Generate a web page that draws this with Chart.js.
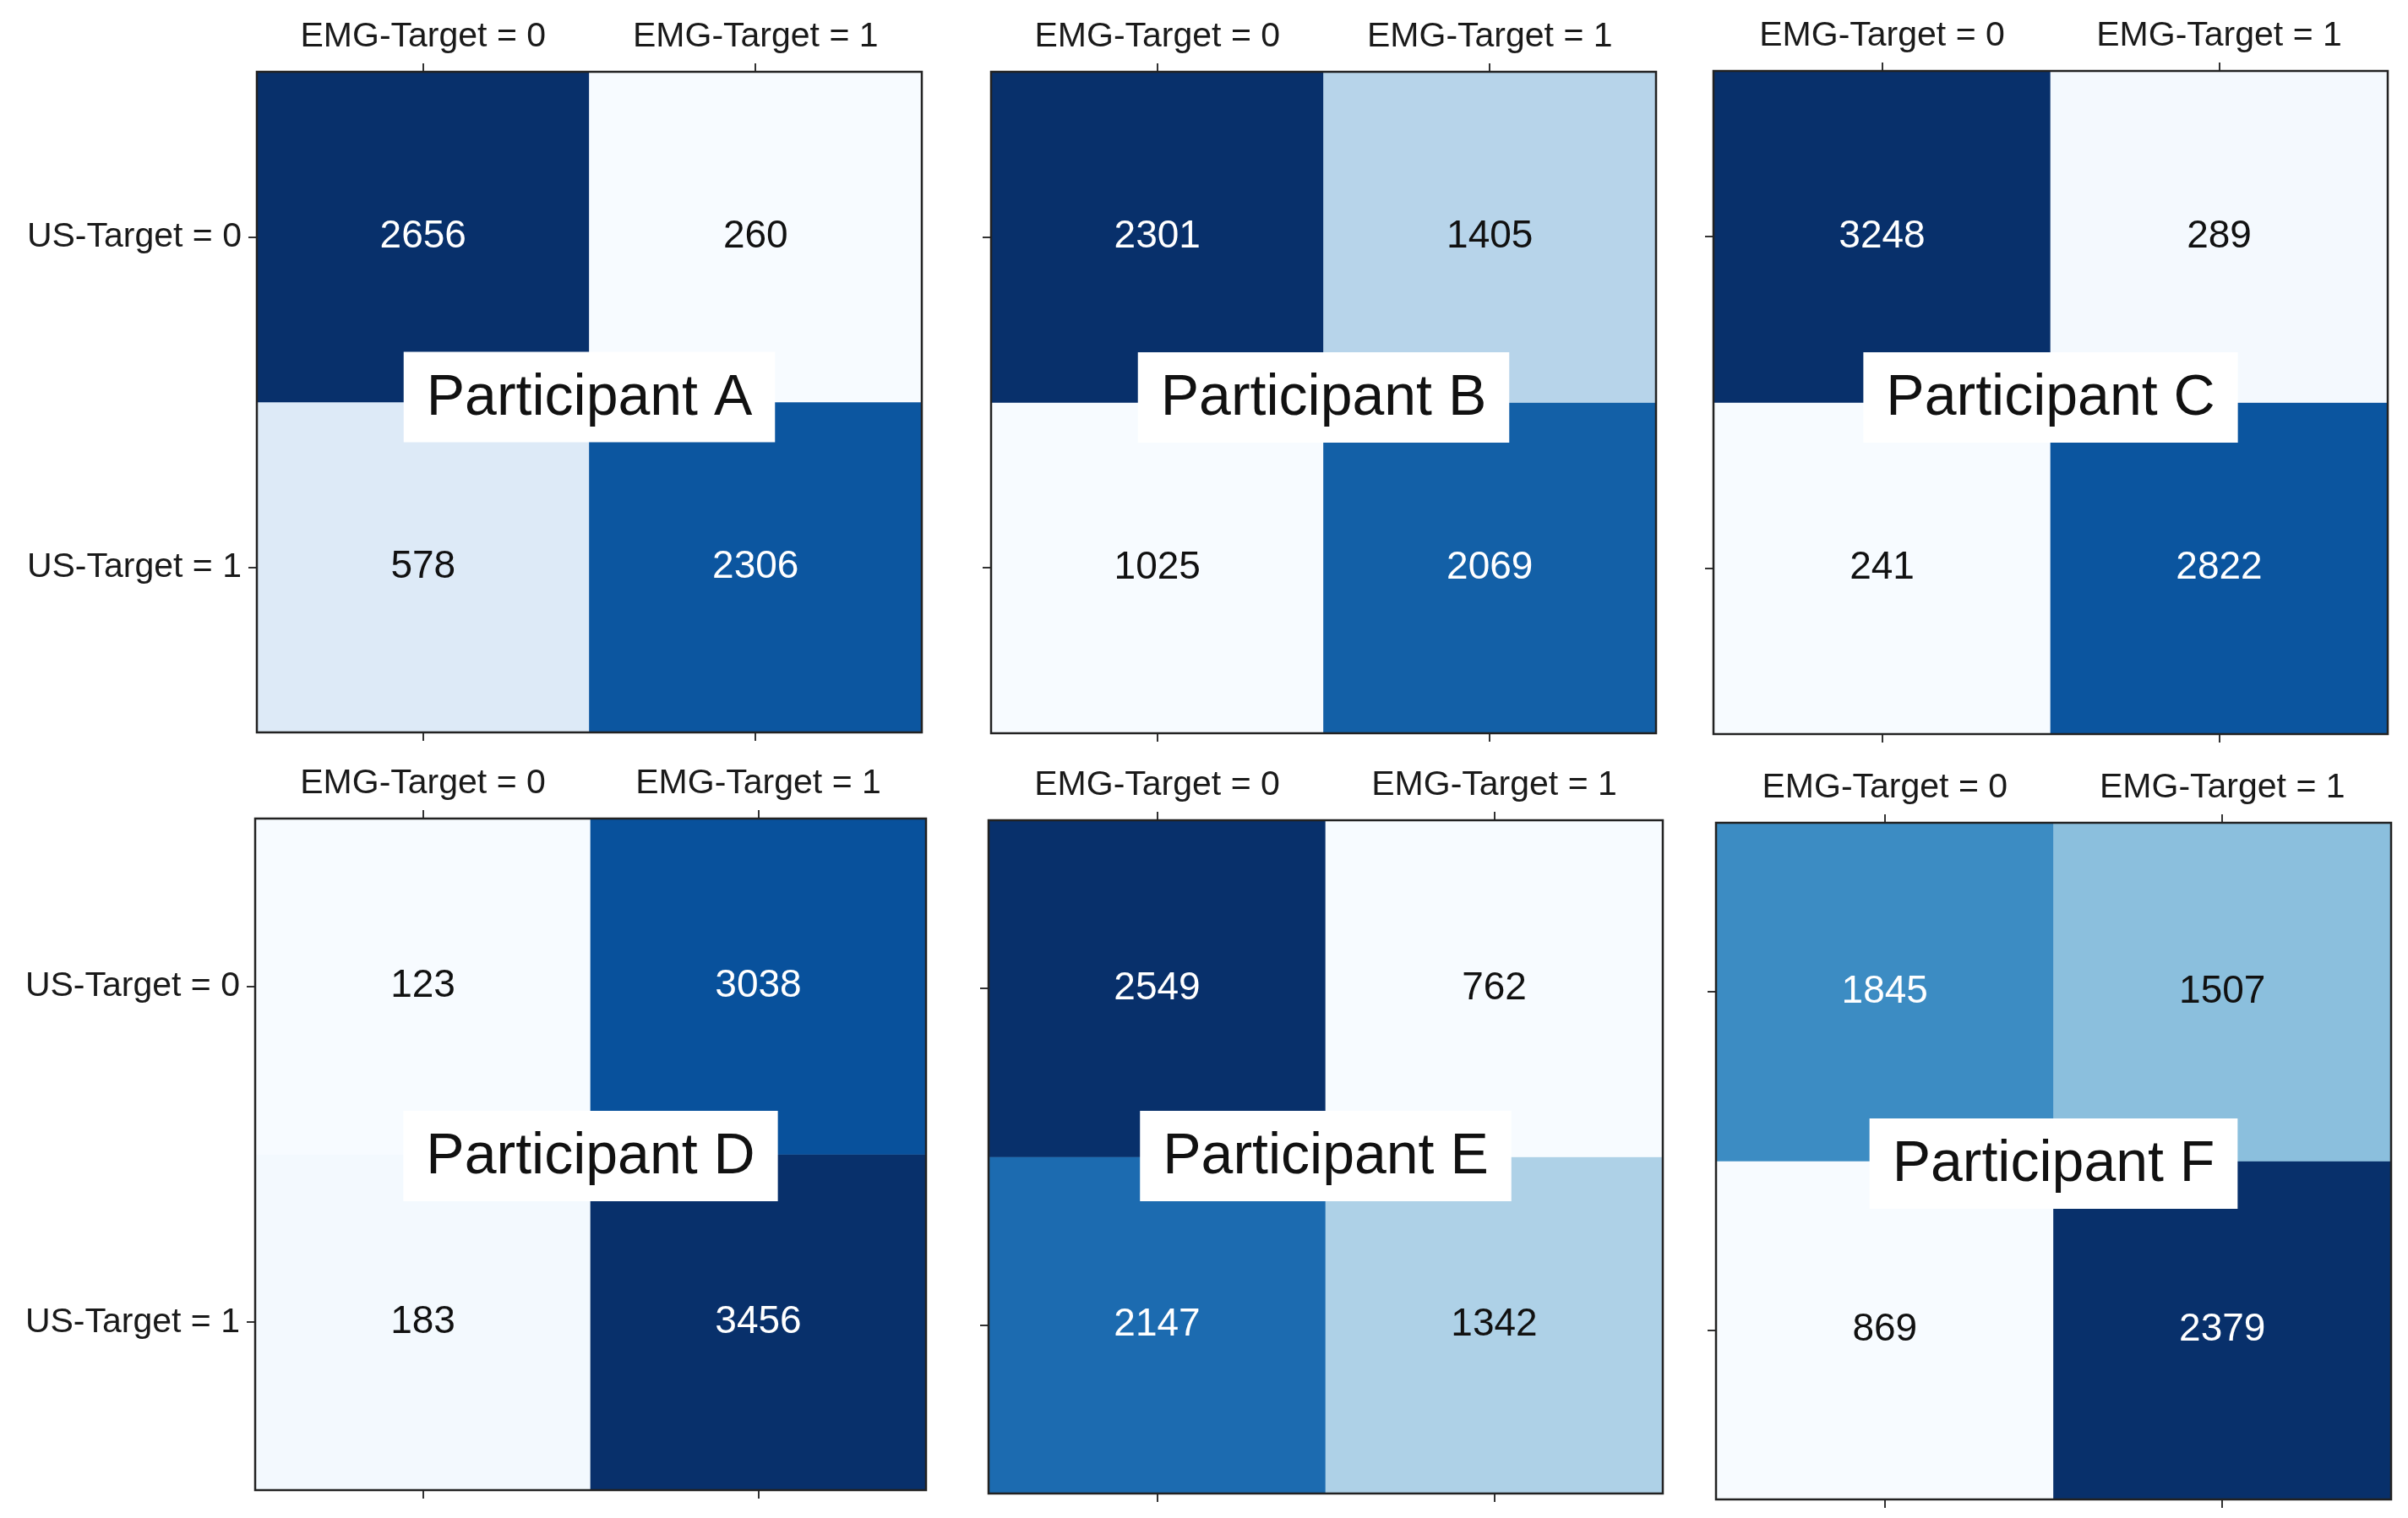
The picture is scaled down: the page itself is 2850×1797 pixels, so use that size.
<!DOCTYPE html>
<html>
<head>
<meta charset="utf-8">
<script src="https://cdn.jsdelivr.net/npm/chart.js@4.4.1/dist/chart.umd.min.js"></script>
<style>
  html, body { margin: 0; padding: 0; background: #fff; }
  body { width: 2850px; height: 1797px; position: relative; overflow: hidden; }
  .panel { position: absolute; }
</style>
</head>
<body>
<script>
// --- data ---
const emgLabels = ["EMG-Target = 0", "EMG-Target = 1"];
const usLabels = ["US-Target = 0", "US-Target = 1"];
const participants = ["Participant A", "Participant B", "Participant C",
                      "Participant D", "Participant E", "Participant F"];

const countsA = [[2656, 260], [578, 2306]];
const countsB = [[2301, 1405], [1025, 2069]];
const countsC = [[3248, 289], [241, 2822]];
const countsD = [[123, 3038], [183, 3456]];
const countsE = [[2549, 762], [2147, 1342]];
const countsF = [[1845, 1507], [869, 2379]];
const allCounts = [countsA, countsB, countsC, countsD, countsE, countsF];

// plot boxes on the page: left, top, right, bottom
const boxes = [
  [304, 85, 1091, 867],
  [1173, 85, 1960, 868],
  [2028, 84, 2826, 869],
  [302, 969, 1096, 1764],
  [1170, 971, 1968, 1768],
  [2031, 974, 2830, 1775],
];
const showRowLabels = [true, false, false, true, false, false];
// vertical nudge of the white name box from the plot centre
const labelDy = [-6, -6, -6, 2, -1, 3];

const FONT = "'Liberation Sans', Arial, Helvetica, sans-serif";

// matplotlib "Blues"
const bluesStops = ["#f7fbff", "#deebf7", "#c6dbef", "#9ecae1", "#6baed6",
                    "#4292c6", "#2171b5", "#08519c", "#08306b"];
function hexToRgb(h) {
  return [parseInt(h.slice(1, 3), 16), parseInt(h.slice(3, 5), 16), parseInt(h.slice(5, 7), 16)];
}
function blues(t) {
  t = Math.max(0, Math.min(1, t));
  const s = t * (bluesStops.length - 1);
  const i = Math.min(Math.floor(s), bluesStops.length - 2);
  const f = s - i;
  const a = hexToRgb(bluesStops[i]);
  const b = hexToRgb(bluesStops[i + 1]);
  const c = a.map((v, k) => Math.round(v + (b[k] - v) * f));
  return "rgb(" + c.join(",") + ")";
}

// cell text + frame + participant label
const overlayPlugin = {
  id: "overlay",
  afterDatasetsDraw(chart, args, opts) {
    const ctx = chart.ctx;
    const area = chart.chartArea;
    const flat = opts.counts.flat();
    const lo = Math.min(...flat), hi = Math.max(...flat);
    const thresh = (lo + hi) / 2;

    ctx.save();
    ctx.font = "46px " + FONT;
    ctx.textAlign = "center";
    ctx.textBaseline = "middle";
    chart.data.datasets.forEach((ds, di) => {
      const meta = chart.getDatasetMeta(di);
      meta.data.forEach((bar, j) => {
        const v = ds.data[j].v;
        ctx.fillStyle = v > thresh ? "#ffffff" : "#111111";
        ctx.fillText(String(v), bar.x, (bar.y + bar.base) / 2);
      });
    });

    // frame
    ctx.strokeStyle = "#222";
    ctx.lineWidth = 2.5;
    ctx.strokeRect(area.left, area.top, area.right - area.left, area.bottom - area.top);

    // participant label
    ctx.font = "68px " + FONT;
    const tw = ctx.measureText(opts.title).width;
    const cx = (area.left + area.right) / 2;
    const cy = (area.top + area.bottom) / 2 + opts.dy;
    const bw = tw + 54, bh = 107;
    ctx.fillStyle = "#ffffff";
    ctx.fillRect(cx - bw / 2, cy - bh / 2, bw, bh);
    ctx.fillStyle = "#111111";
    ctx.fillText(opts.title, cx, cy + 2);
    ctx.restore();
  },
};

const yw = 300, yNarrow = 20, tx = 80, bx = 44;

allCounts.forEach((counts, p) => {
  const [l, t, r, b] = boxes[p];
  const leftW = showRowLabels[p] ? yw : yNarrow;

  const div = document.createElement("div");
  div.className = "panel";
  div.style.left = (l - leftW) + "px";
  div.style.top = (t - tx) + "px";
  div.style.width = (r - l + leftW + 4) + "px";
  div.style.height = (b - t + tx + bx) + "px";
  const canvas = document.createElement("canvas");
  div.appendChild(canvas);
  document.body.appendChild(div);

  const flat = counts.flat();
  const lo = Math.min(...flat), hi = Math.max(...flat);

  const datasets = usLabels.map((u, i) => ({
    label: u,
    data: emgLabels.map((e, j) => ({ x: e, y: [i - 0.5, i + 0.5], v: counts[i][j] })),
    backgroundColor: (c) => blues((c.raw.v - lo) / (hi - lo)),
    borderWidth: 0,
    borderSkipped: false,
    barPercentage: 1,
    categoryPercentage: 1,
    grouped: false,
  }));

  const tickGrid = {
    drawOnChartArea: false,
    drawTicks: true,
    tickLength: 10,
    color: "#333",
    lineWidth: 2,
    offset: false,
  };

  new Chart(canvas.getContext("2d"), {
    type: "bar",
    data: { labels: emgLabels, datasets: datasets },
    plugins: [overlayPlugin],
    options: {
      responsive: true,
      maintainAspectRatio: false,
      animation: false,
      layout: { autoPadding: false, padding: { left: 0, top: 0, right: 4, bottom: 0 } },
      scales: {
        x: {
          type: "category",
          position: "top",
          offset: true,
          grid: tickGrid,
          border: { display: false },
          ticks: { color: "#1a1a1a", font: { family: FONT, size: 41 }, padding: 7, maxRotation: 0 },
          afterFit: (s) => { s.height = tx; },
        },
        x2: {
          type: "category",
          position: "bottom",
          offset: true,
          grid: tickGrid,
          border: { display: false },
          ticks: { callback: () => "", padding: 0 },
          afterFit: (s) => { s.height = bx; },
        },
        y: {
          type: "linear",
          min: -0.5,
          max: 1.5,
          reverse: true,
          grid: tickGrid,
          border: { display: false },
          afterBuildTicks: (s) => { s.ticks = [{ value: 0 }, { value: 1 }]; },
          ticks: {
            color: "#1a1a1a",
            font: { family: FONT, size: 41 },
            padding: 8,
            callback: (v) => (showRowLabels[p] ? usLabels[v] : ""),
          },
          afterFit: (s) => { s.width = leftW; },
        },
      },
      plugins: {
        legend: { display: false },
        tooltip: { enabled: false },
        overlay: { counts: counts, title: participants[p], dy: labelDy[p] },
      },
    },
  });
});
</script>
</body>
</html>
